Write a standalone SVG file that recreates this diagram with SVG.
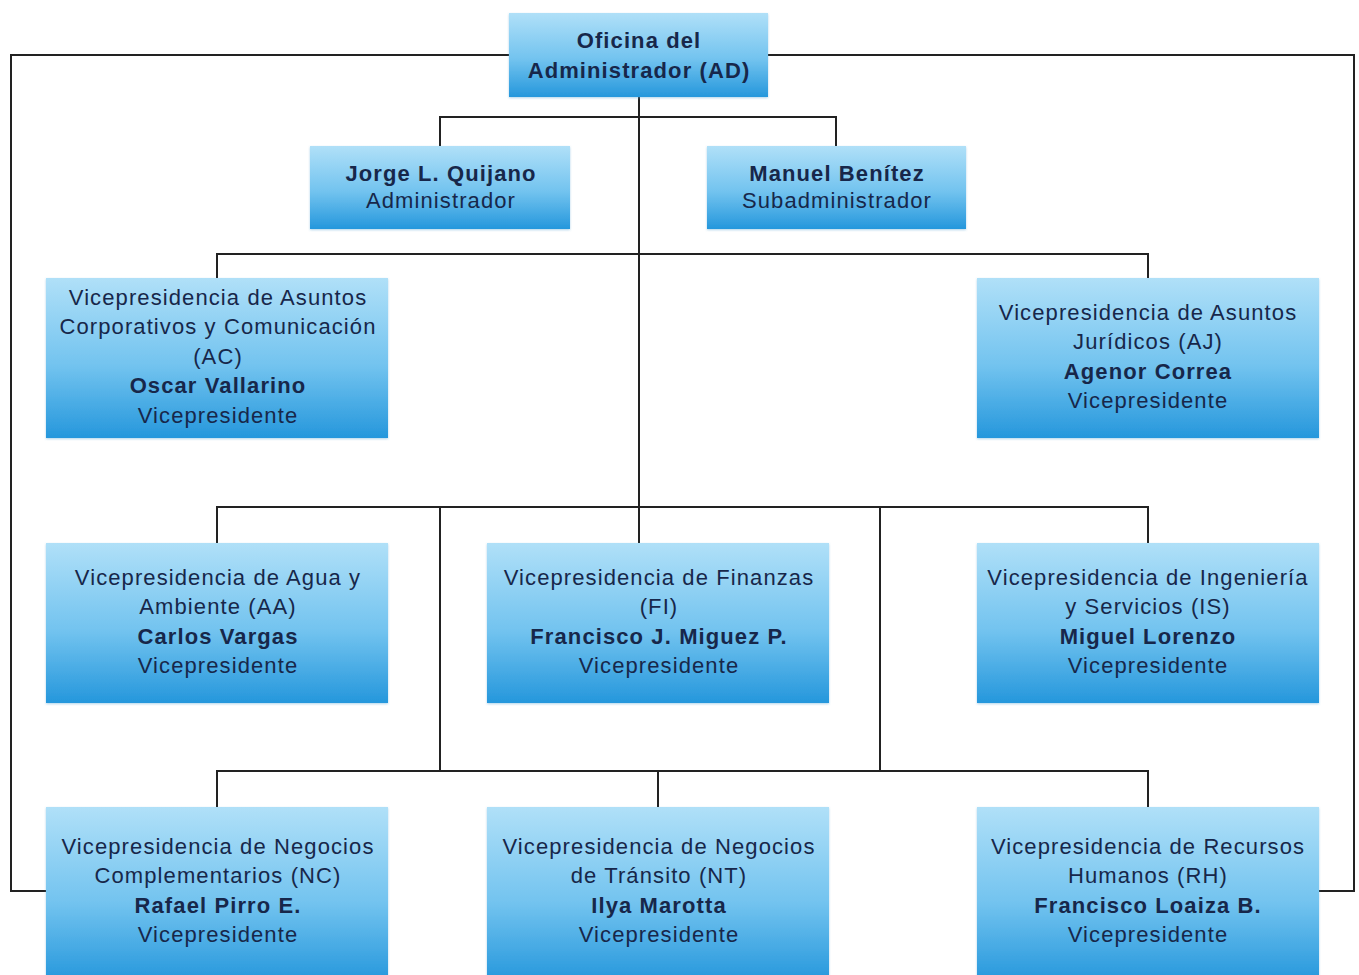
<svg xmlns="http://www.w3.org/2000/svg" width="1359" height="975" viewBox="0 0 1359 975">
<defs>
<linearGradient id="g" x1="0" y1="0" x2="0" y2="1">
<stop offset="0" stop-color="#b0e0f8"/>
<stop offset="0.55" stop-color="#72c3ef"/>
<stop offset="1" stop-color="#2597dc"/>
</linearGradient>
<filter id="sh" x="-5%" y="-5%" width="110%" height="115%">
<feDropShadow dx="0" dy="1" stdDeviation="1.2" flood-color="#5fa9d6" flood-opacity="0.5"/>
</filter>
</defs>
<style>
.box{fill:url(#g);filter:url(#sh)}
text{font-family:"Liberation Sans",Arial,sans-serif;font-size:22px;fill:#17274a;text-anchor:middle;letter-spacing:1.1px}
.b{font-weight:bold}
.ln{fill:none;stroke:#222;stroke-width:2}
</style>
<rect width="1359" height="975" fill="#fff"/>
<g id="connectors">
<path class="ln" d="M509,55 H11 V891 H46"/>
<path class="ln" d="M768,55 H1354 V891 H1319"/>
<path class="ln" d="M639,97 V543"/>
<path class="ln" d="M440,146 V117 H836 V146"/>
<path class="ln" d="M217,278 V254 H1148 V278"/>
<path class="ln" d="M217,543 V507 H1148 V543"/>
<path class="ln" d="M440,507 V771"/>
<path class="ln" d="M880,507 V771"/>
<path class="ln" d="M217,807 V771 H1148 V807"/>
<path class="ln" d="M658,771 V807"/>
</g>
<g id="ad">
<rect class="box" x="509" y="13" width="259" height="84"/>
<text class="b" x="639" y="48">Oficina del</text>
<text class="b" x="639" y="78">Administrador (AD)</text>
</g>
<g id="quijano">
<rect class="box" x="310" y="146" width="260" height="83"/>
<text class="b" x="441" y="181">Jorge L. Quijano</text>
<text x="441" y="208">Administrador</text>
</g>
<g id="benitez">
<rect class="box" x="707" y="146" width="259" height="83"/>
<text class="b" x="837" y="181">Manuel Benítez</text>
<text x="837" y="208">Subadministrador</text>
</g>
<g id="ac">
<rect class="box" x="46" y="278" width="342" height="160"/>
<text x="218" y="305">Vicepresidencia de Asuntos</text>
<text x="218" y="334">Corporativos y Comunicación</text>
<text x="218" y="364">(AC)</text>
<text class="b" x="218" y="393">Oscar Vallarino</text>
<text x="218" y="423">Vicepresidente</text>
</g>
<g id="aj">
<rect class="box" x="977" y="278" width="342" height="160"/>
<text x="1148" y="320">Vicepresidencia de Asuntos</text>
<text x="1148" y="349">Jurídicos (AJ)</text>
<text class="b" x="1148" y="379">Agenor Correa</text>
<text x="1148" y="408">Vicepresidente</text>
</g>
<g id="aa">
<rect class="box" x="46" y="543" width="342" height="160"/>
<text x="218" y="585">Vicepresidencia de Agua y</text>
<text x="218" y="614">Ambiente (AA)</text>
<text class="b" x="218" y="644">Carlos Vargas</text>
<text x="218" y="673">Vicepresidente</text>
</g>
<g id="fi">
<rect class="box" x="487" y="543" width="342" height="160"/>
<text x="659" y="585">Vicepresidencia de Finanzas</text>
<text x="659" y="614">(FI)</text>
<text class="b" x="659" y="644">Francisco J. Miguez P.</text>
<text x="659" y="673">Vicepresidente</text>
</g>
<g id="is">
<rect class="box" x="977" y="543" width="342" height="160"/>
<text x="1148" y="585">Vicepresidencia de Ingeniería</text>
<text x="1148" y="614">y Servicios (IS)</text>
<text class="b" x="1148" y="644">Miguel Lorenzo</text>
<text x="1148" y="673">Vicepresidente</text>
</g>
<g id="nc">
<rect class="box" x="46" y="807" width="342" height="175"/>
<text x="218" y="854">Vicepresidencia de Negocios</text>
<text x="218" y="883">Complementarios (NC)</text>
<text class="b" x="218" y="913">Rafael Pirro E.</text>
<text x="218" y="942">Vicepresidente</text>
</g>
<g id="nt">
<rect class="box" x="487" y="807" width="342" height="175"/>
<text x="659" y="854">Vicepresidencia de Negocios</text>
<text x="659" y="883">de Tránsito (NT)</text>
<text class="b" x="659" y="913">Ilya Marotta</text>
<text x="659" y="942">Vicepresidente</text>
</g>
<g id="rh">
<rect class="box" x="977" y="807" width="342" height="175"/>
<text x="1148" y="854">Vicepresidencia de Recursos</text>
<text x="1148" y="883">Humanos (RH)</text>
<text class="b" x="1148" y="913">Francisco Loaiza B.</text>
<text x="1148" y="942">Vicepresidente</text>
</g>
</svg>
